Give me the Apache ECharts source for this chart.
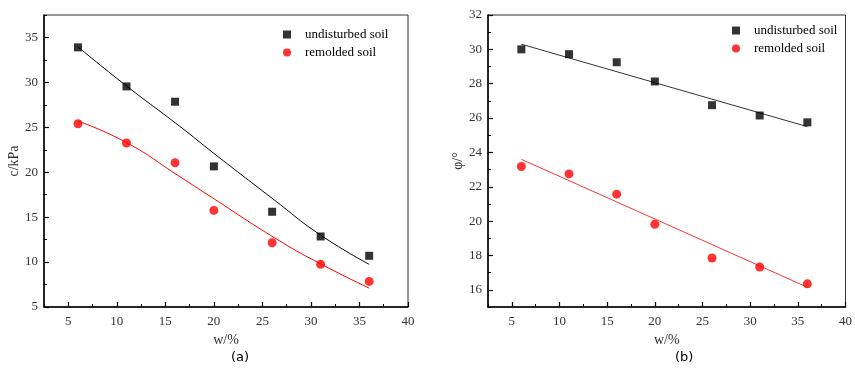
<!DOCTYPE html>
<html>
<head>
<meta charset="utf-8">
<script src="https://cdn.jsdelivr.net/npm/echarts@6/dist/echarts.min.js"></script>
<style>html,body{margin:0;padding:0;background:#fff}#c{width:855px;height:370px}</style>
</head>
<body>
<div id="c"></div>
<script>
// ---- data ----
const w = [6, 11, 16, 20, 26, 31, 36];
const cUndisturbed = [33.9, 29.55, 27.85, 20.65, 15.6, 12.85, 10.7];
const cRemolded = [25.4, 23.25, 21.05, 15.75, 12.15, 9.75, 7.85];
const cFitUndX = [6, 11, 16.5, 20, 26, 31, 36];
const cFitUndY = [33.95, 29.6, 25.1, 22.1, 17.1, 13.0, 9.75];
const cFitRemX = [6, 11, 16.5, 20, 26.4, 31, 36];
const cFitRemY = [25.7, 23.3, 19.5, 17.05, 12.6, 9.8, 7.1];
const phiUndisturbed = [30.0, 29.72, 29.25, 28.13, 26.75, 26.15, 25.75];
const phiRemolded = [23.18, 22.75, 21.57, 19.82, 17.85, 17.33, 16.35];
const phiFitX = [6, 36];
const phiFitUnd = [30.3, 25.5];
const phiFitRem = [23.6, 16.15];
const xMajor = [5, 10, 15, 20, 25, 30, 35, 40];
const cMajor = [5, 10, 15, 20, 25, 30, 35];
const phiMajor = [16, 18, 20, 22, 24, 26, 28, 30, 32];
const names = ['undisturbed soil', 'remolded soil'];

const zip = (a, b) => a.map((v, i) => [v, b[i]]);
const font = 'Liberation Serif';

function xAxes(grid) {
  return [
    { type: 'value', gridIndex: grid, min: 2.5, max: 40, position: 'bottom',
      axisLine: { show: true, onZero: false, lineStyle: { color: '#000', width: 1.5 } },
      axisTick: { show: true, inside: true, length: 5, customValues: xMajor, lineStyle: { color: '#000', width: 1.2 } },
      axisLabel: { show: true, customValues: xMajor, margin: 8, color: '#333', fontFamily: font, fontSize: 13 },
      splitLine: { show: false },
      name: 'w/%', nameLocation: 'middle', nameGap: 16,
      nameTextStyle: { fontFamily: font, fontSize: 14, color: '#333' } },
    { type: 'value', gridIndex: grid, min: 2.5, max: 40, interval: 2.5, position: 'bottom',
      axisLine: { show: false }, axisLabel: { show: false }, splitLine: { show: false },
      axisTick: { show: true, inside: true, length: 3, lineStyle: { color: '#000', width: 1 } } }
  ];
}
function yAxes(grid, min, max, major, minorInt, name, gap) {
  return [
    { type: 'value', gridIndex: grid, min: min, max: max, position: 'left',
      axisLine: { show: true, onZero: false, lineStyle: { color: '#000', width: 1.5 } },
      axisTick: { show: true, inside: true, length: 5, customValues: major, lineStyle: { color: '#000', width: 1.2 } },
      axisLabel: { show: true, customValues: major, margin: 6, color: '#333', fontFamily: font, fontSize: 13 },
      splitLine: { show: false },
      name: name, nameLocation: 'middle', nameGap: gap,
      nameTextStyle: { fontFamily: font, fontSize: 14, color: '#333' } },
    { type: 'value', gridIndex: grid, min: min, max: max, interval: minorInt, position: 'left',
      axisLine: { show: false }, axisLabel: { show: false }, splitLine: { show: false },
      axisTick: { show: true, inside: true, length: 3, lineStyle: { color: '#000', width: 1 } } }
  ];
}

const chart = echarts.init(document.getElementById('c'));
chart.setOption({
  animation: false,
  backgroundColor: '#fff',
  textStyle: { fontFamily: font },
  grid: [
    { left: 44, top: 15, width: 364, height: 292, show: true, borderColor: '#333', borderWidth: 1 },
    { left: 488, top: 15, width: 364, height: 292, show: true, borderColor: '#333', borderWidth: 1 }
  ],
  xAxis: [...xAxes(0), ...xAxes(1)],
  yAxis: [...yAxes(0, 5, 37.5, cMajor, 2.5, 'c/kPa', 20), ...yAxes(1, 15, 32, phiMajor, 1, 'φ/°', 19)],
  legend: [
    { data: [{ name: names[0], icon: 'rect' }, { name: names[1], icon: 'circle' }],
      orient: 'vertical', left: 278, top: 23, itemWidth: 8, itemHeight: 8, itemGap: 5,
      textStyle: { fontFamily: font, fontSize: 13, color: '#000', padding: [0, 0, 0, 9] } },
    { data: [{ name: names[0], icon: 'rect' }, { name: names[1], icon: 'circle' }],
      orient: 'vertical', left: 727, top: 19, itemWidth: 8, itemHeight: 8, itemGap: 5,
      textStyle: { fontFamily: font, fontSize: 13, color: '#000', padding: [0, 0, 0, 9] } }
  ],
  series: [
    { name: 'fit-c-und', type: 'line', xAxisIndex: 0, yAxisIndex: 0, data: zip(cFitUndX, cFitUndY), smooth: 0.5, showSymbol: false, lineStyle: { color: '#000', width: 1 }, z: 1 },
    { name: 'fit-c-rem', type: 'line', xAxisIndex: 0, yAxisIndex: 0, data: zip(cFitRemX, cFitRemY), smooth: 0.5, showSymbol: false, lineStyle: { color: '#ff0000', width: 1 }, z: 1 },
    { name: names[0], type: 'scatter', xAxisIndex: 0, yAxisIndex: 0, data: zip(w, cUndisturbed), symbol: 'rect', symbolSize: 8, itemStyle: { color: '#000' }, z: 3 },
    { name: names[1], type: 'scatter', xAxisIndex: 0, yAxisIndex: 0, data: zip(w, cRemolded), symbol: 'circle', symbolSize: 9, itemStyle: { color: '#ff0000' }, z: 3 },
    { name: 'fit-p-und', type: 'line', xAxisIndex: 2, yAxisIndex: 2, data: zip(phiFitX, phiFitUnd), showSymbol: false, lineStyle: { color: '#333', width: 1 }, z: 1 },
    { name: 'fit-p-rem', type: 'line', xAxisIndex: 2, yAxisIndex: 2, data: zip(phiFitX, phiFitRem), showSymbol: false, lineStyle: { color: '#ff3333', width: 1 }, z: 1 },
    { name: names[0], type: 'scatter', xAxisIndex: 2, yAxisIndex: 2, data: zip(w, phiUndisturbed), symbol: 'rect', symbolSize: 8, itemStyle: { color: '#000' }, z: 3 },
    { name: names[1], type: 'scatter', xAxisIndex: 2, yAxisIndex: 2, data: zip(w, phiRemolded), symbol: 'circle', symbolSize: 9, itemStyle: { color: '#ff0000' }, z: 3 }
  ],
  graphic: [
    { type: 'text', left: 231, top: 351, style: { text: '(a)', fontFamily: 'DejaVu Sans', fontSize: 13, fill: '#000' } },
    { type: 'text', left: 675, top: 351, style: { text: '(b)', fontFamily: 'DejaVu Sans', fontSize: 13, fill: '#000' } }
  ]
});
</script>
</body>
</html>
